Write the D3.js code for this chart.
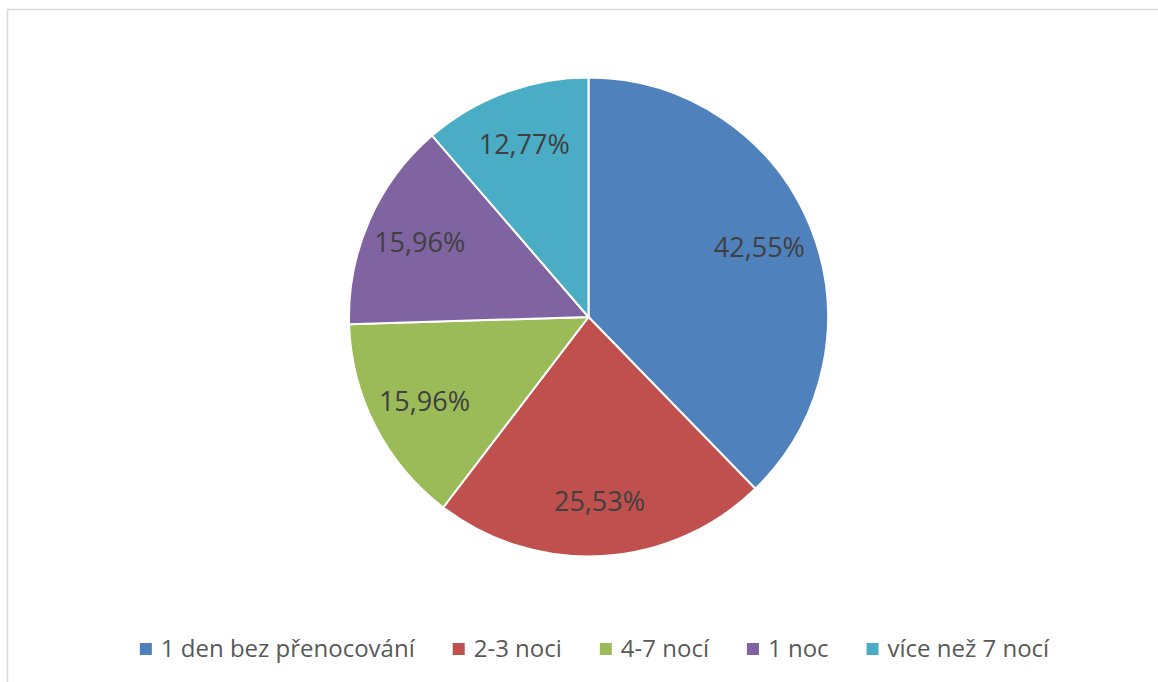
<!DOCTYPE html>
<html>
<head>
<meta charset="utf-8">
<script src="https://cdn.jsdelivr.net/npm/d3@7"></script>
<style>
  body { margin: 0; background: #fff; }
  svg { display: block; }
</style>
</head>
<body>
<div id="chart"></div>
<script>
// categories, values (percent) and colours, clockwise from the top
const categories = ['1 den bez přenocování', '2-3 noci', '4-7 nocí', '1 noc', 'více než 7 nocí'];
const values = [42.55, 25.53, 15.96, 15.96, 12.77];
const colors = ['#4F81BD', '#C0504D', '#9BBB59', '#8064A2', '#4BACC6'];

const W = 1158, H = 682;
const cx = 588.5, cy = 317, radius = 239.5;

const svg = d3.select('#chart')
    .append('svg')
    .attr('width', W)
    .attr('height', H);

// chart area border (runs off the right/bottom edge)
svg.append('rect')
    .attr('x', 7.5)
    .attr('y', 9.5)
    .attr('width', W)
    .attr('height', H)
    .attr('fill', 'none')
    .attr('stroke', '#d9d9d9')
    .attr('stroke-width', 1.5);

const data = categories.map((c, i) => ({ name: c, value: values[i], color: colors[i] }));

const pie = d3.pie()
    .sort(null)
    .value(d => d.value);

const arc = d3.arc()
    .innerRadius(0)
    .outerRadius(radius);

const labelArc = d3.arc()
    .innerRadius(radius * 0.77)
    .outerRadius(radius * 0.77);

const g = svg.append('g')
    .attr('transform', `translate(${cx}, ${cy})`);

const arcs = pie(data);

g.selectAll('.slice')
    .data(arcs)
    .enter()
    .append('path')
    .attr('class', 'slice')
    .attr('d', arc)
    .attr('fill', d => d.data.color)
    .attr('stroke', '#fff')
    .attr('stroke-width', 2);

g.selectAll('.label')
    .data(arcs)
    .enter()
    .append('text')
    .attr('class', 'label')
    .attr('transform', d => `translate(${labelArc.centroid(d)})`)
    .attr('text-anchor', 'middle')
    .attr('dy', '0.35em')
    .style('font-family', '"Open Sans", sans-serif')
    .style('font-size', '27px')
    .style('fill', '#404040')
    .text(d => d3.format('.2f')(d.data.value).replace('.', ',') + '%');

// legend, laid out from measured text widths and centred
const legend = svg.append('g');
const items = legend.selectAll('.item')
    .data(data)
    .enter()
    .append('g')
    .attr('class', 'item');

items.append('rect')
    .attr('width', 12)
    .attr('height', 12)
    .attr('y', -6)
    .attr('fill', d => d.color);

items.append('text')
    .attr('x', 21)
    .attr('dy', '0.35em')
    .style('font-family', '"Open Sans", sans-serif')
    .style('font-size', '24px')
    .style('fill', '#595959')
    .text(d => d.name);

let offset = 0;
items.each(function() {
    const w = d3.select(this).select('text').node().getComputedTextLength();
    d3.select(this).attr('transform', `translate(${offset}, 0)`);
    offset += 21 + w + 38;
});
const total = offset - 38;
legend.attr('transform', `translate(${594.5 - total / 2}, 649)`);
</script>
</body>
</html>
